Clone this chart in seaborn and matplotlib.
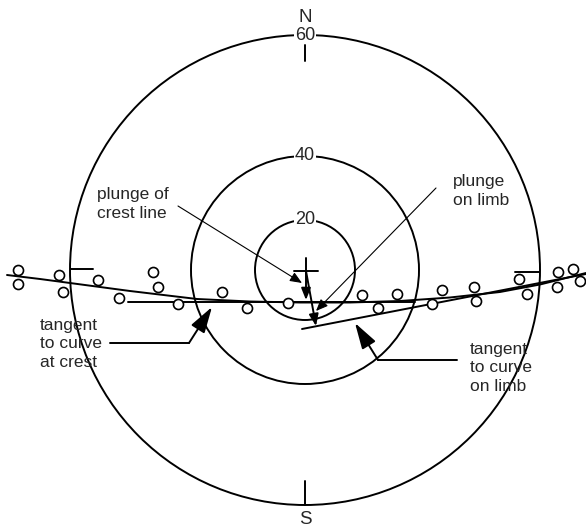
import matplotlib
matplotlib.use("Agg")
import matplotlib.pyplot as plt
from matplotlib.patches import Circle
import seaborn as sns
import pandas as pd

sns.set_style("white")
plt.rcParams["font.family"] = ["Liberation Sans", "DejaVu Sans"]

# Plot frame (drawing units = pixels on a 586 x 531 sheet)
center_x, center_y = 305, 270
ring_labels = [20, 40, 60]
ring_radii = [50, 114, 235]

# Measured fold-axis points
pts_x = [18, 18, 59, 63, 98, 153, 158, 119, 178, 222, 247, 288, 362,
         378, 397, 432, 442, 474, 476, 519, 527, 558, 557, 573, 580]
pts_y = [270, 284, 275, 292, 280, 272, 287, 298, 304, 292, 308, 303, 295,
         308, 294, 304, 290, 287, 301, 279, 294, 272, 287, 269, 281]

# Best-fit curve through the points
curve_x = [7, 40, 70, 130, 197, 250, 300, 350, 400, 450, 500, 540, 586]
curve_y = [275, 279, 283, 291, 299, 301.5, 302.5, 302.5, 301, 297.5, 292, 284.5, 273]

# Tangent lines
crest_tangent_x = [128, 415]
crest_tangent_y = [302, 302]
limb_tangent_x = [302, 586]
limb_tangent_y = [329, 274]

fig = plt.figure(figsize=(5.86, 5.31), dpi=100)
ax = fig.add_axes([0, 0, 1, 1])
ax.set_xlim(0, 586)
ax.set_ylim(531, 0)
ax.set_aspect("equal")
ax.axis("off")

LW = 1.4
FS = 12.5

# Plunge rings
for lab, r in zip(ring_labels, ring_radii):
    ax.add_patch(Circle((center_x, center_y), r, fill=False, ec="black", lw=LW, zorder=2))
    ax.text(center_x, center_y - r, str(lab), ha="center", va="center", fontsize=FS + 0.5,
            bbox=dict(boxstyle="square,pad=0.05", fc="white", ec="none"), zorder=3)

# Compass ticks and labels
R = ring_radii[-1]
ax.plot([center_x, center_x], [center_y - R + 10, center_y - R + 26], color="k", lw=LW)
ax.plot([center_x, center_x], [center_y + R - 24, center_y + R], color="k", lw=LW)
ax.plot([center_x - R + 1, center_x - R + 23], [269, 269], color="k", lw=LW)
ax.plot([center_x + R - 25, center_x + R - 1], [272, 272], color="k", lw=LW)
ax.text(center_x, 17, "N", ha="center", va="center", fontsize=FS + 1)
ax.text(center_x, 520, "S", ha="center", va="center", fontsize=FS + 1)

# Curve and tangents
sns.lineplot(x=curve_x, y=curve_y, sort=False, color="black", lw=LW, ax=ax, zorder=4)
ax.plot(crest_tangent_x, crest_tangent_y, color="black", lw=LW, zorder=4)
ax.plot(limb_tangent_x, limb_tangent_y, color="black", lw=LW, zorder=4)

# Data points
df = pd.DataFrame({"x": pts_x, "y": pts_y})
sns.scatterplot(data=df, x="x", y="y", marker="o", s=52, facecolor="white",
                edgecolor="black", linewidth=1.2, ax=ax, zorder=6, legend=False)
ax.set_xlabel("")
ax.set_ylabel("")

# Cross at the centre and plunge arrows
ax.plot([294, 318], [271, 271], color="k", lw=LW, zorder=5)
ax.plot([306, 306], [258, 271], color="k", lw=LW, zorder=5)
mid_arrow = dict(arrowstyle="-|>,head_length=0.5,head_width=0.2", color="k",
                 lw=LW, mutation_scale=14, shrinkA=0, shrinkB=0)
ax.annotate("", xy=(306, 300), xytext=(306, 271), arrowprops=mid_arrow, zorder=5)
ax.annotate("", xy=(316, 326), xytext=(306, 271), arrowprops=mid_arrow, zorder=5)

thin_arrow = dict(arrowstyle="-|>,head_length=0.6,head_width=0.25", color="k",
                  lw=0.8, mutation_scale=12, shrinkA=0, shrinkB=0)
ax.annotate("", xy=(302, 283), xytext=(178, 206), arrowprops=thin_arrow, zorder=5)
ax.annotate("", xy=(316, 311), xytext=(436, 188), arrowprops=thin_arrow, zorder=5)

big_arrow = dict(arrowstyle="-|>,head_length=0.8,head_width=0.24", color="k",
                 lw=LW, mutation_scale=20, shrinkA=0, shrinkB=0)
ax.plot([110, 189], [343, 343], color="k", lw=LW)
ax.annotate("", xy=(212, 307), xytext=(189, 343), arrowprops=big_arrow, zorder=5)
ax.plot([457, 378], [360, 360], color="k", lw=LW)
ax.annotate("", xy=(355, 323), xytext=(378, 360), arrowprops=big_arrow, zorder=5)

# Annotations
ax.text(97, 204, "plunge of\ncrest line", ha="left", va="center", fontsize=FS, linespacing=1.3)
ax.text(453, 191, "plunge\non limb", ha="left", va="center", fontsize=FS, linespacing=1.3)
ax.text(40, 344, "tangent\nto curve\nat crest", ha="left", va="center", fontsize=FS, linespacing=1.3)
ax.text(470, 368, "tangent\nto curve\non limb", ha="left", va="center", fontsize=FS, linespacing=1.3)

fig.savefig("out.png", dpi=100)
